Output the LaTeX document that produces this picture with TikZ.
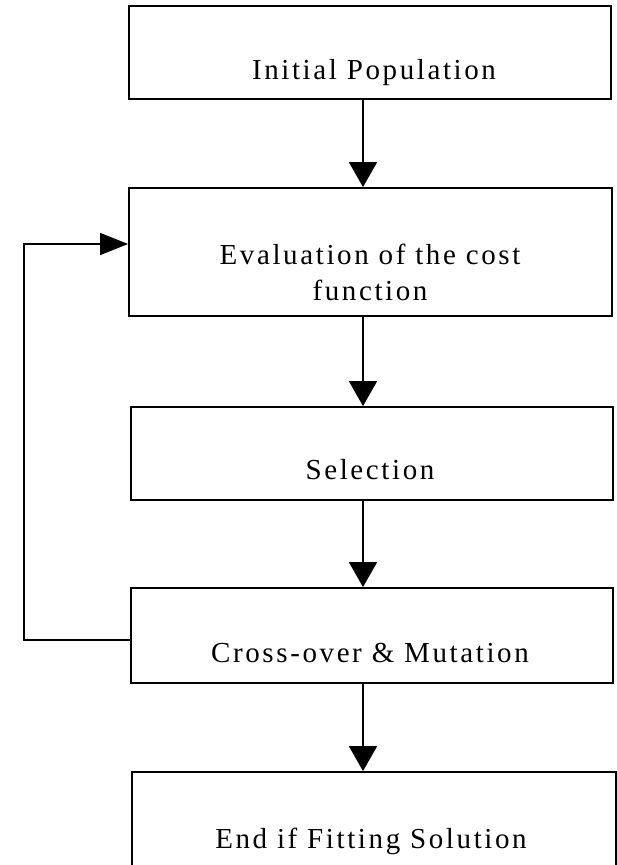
\documentclass[tikz,border=0pt]{standalone}
\usepackage{fontspec}
\setmainfont{Liberation Serif}[LetterSpace=9]
\usetikzlibrary{arrows.meta}
\begin{document}
\begin{tikzpicture}[x=1pt,y=-1pt,
  box/.style={draw=black,line width=1.8pt,rectangle,inner sep=0pt},
  lbl/.style={inner sep=0pt,align=center,font=\fontsize{29}{36}\selectfont},
  arr/.style={draw=black,line width=1.6pt,-{Triangle[length=25pt,width=28pt]}},
  larr/.style={draw=black,line width=1.6pt,-{Triangle[length=28pt,width=22pt]}}]
\useasboundingbox[fill=white] (0,0) rectangle (617,865);
\begin{scope}
\clip (0,0) rectangle (617,865);
\node[box,minimum width=482pt,minimum height=93pt] (b1) at (370,52.5) {};
\node[box,minimum width=483pt,minimum height=128pt] (b2) at (370.5,252) {};
\node[box,minimum width=482pt,minimum height=93pt] (b3) at (372,453.5) {};
\node[box,minimum width=482pt,minimum height=95pt] (b4) at (372,635.5) {};
\node[box,minimum width=484pt,minimum height=120pt] (b5) at (374,832) {};
\end{scope}
\node[lbl] (t1) at (374,73) {Initial Population};
\node[lbl] (t2) at (370,272) {Evaluation of the cost\\function};
\node[lbl] (t3) at (370,470) {Selection};
\node[lbl] (t4) at (370,653) {Cross-over \& Mutation};
\node[lbl] (t5) at (371,841) {End if Fitting Solution};
\coordinate (ax) at (363,0);
\coordinate (fb1) at (24,640);
\coordinate (fb2) at (24,244);
\draw[arr] (b1.south -| ax) -- (b2.north -| ax);
\draw[arr] (b2.south -| ax) -- (b3.north -| ax);
\draw[arr] (b3.south -| ax) -- (b4.north -| ax);
\draw[arr] (b4.south -| ax) -- (b5.north -| ax);
\draw[larr] (b4.west |- fb1) -- (fb1) -- (fb2) -- (b2.west |- fb2);
\end{tikzpicture}
\end{document}
